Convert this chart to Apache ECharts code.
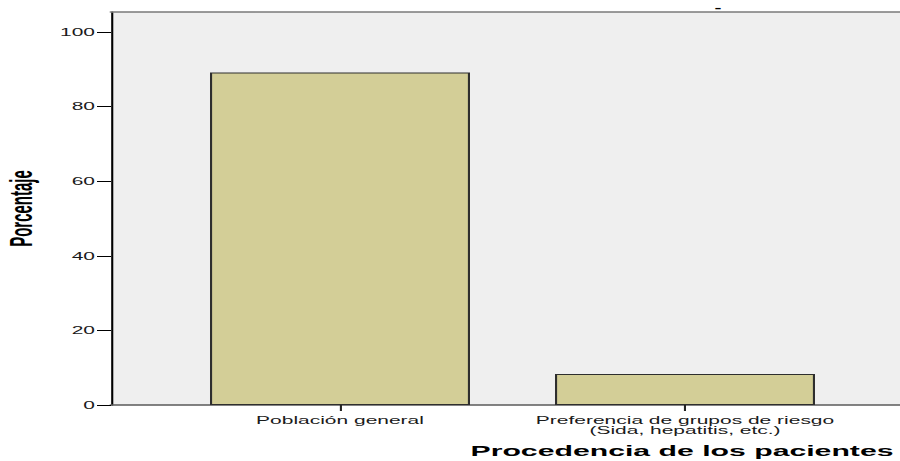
<!DOCTYPE html>
<html>
<head>
<meta charset="utf-8">
<script src="https://cdn.jsdelivr.net/npm/echarts@6/dist/echarts.min.js"></script>
<style>
  html, body { margin: 0; padding: 0; background: #ffffff; overflow: hidden; }
  #wrap { width: 900px; height: 461px; overflow: hidden; }
  #chart { height: 461px; transform-origin: 0 0; }
</style>
</head>
<body>
<div id="wrap"><div id="chart"></div></div>
<script>
// ---- data ----
const categories = ['Población general', 'Preferencia de grupos de riesgo\n(Sida, hepatitis, etc.)'];
const percentages = [89.2, 8.3];
const yTicks = [0, 20, 40, 60, 80, 100];
const yAxisTitle = 'Porcentaje';
const xAxisTitle = 'Procedencia de los pacientes';

// The reference image is horizontally stretched; lay out in a narrow box and stretch it.
const W = 429;
const S = 900 / W;
const el = document.getElementById('chart');
el.style.width = W + 'px';
el.style.transform = 'scaleX(' + S + ')';

const chart = echarts.init(el, null, { renderer: 'svg', width: W, height: 461 });
const FONT = 'Liberation Sans, Arial, sans-serif';
const yMax = 105.4;

chart.setOption({
  animation: false,
  backgroundColor: '#ffffff',
  title: {
    text: '-',
    left: 704 / S,
    top: -3,
    textStyle: { fontSize: 10, fontWeight: 'bold', color: '#000', fontFamily: FONT }
  },
  grid: [
    { left: 111 / S, right: 0, top: 12, bottom: 56, show: true, backgroundColor: '#efefef', borderWidth: 0, outerBoundsMode: 'none', containLabel: false },
    { left: 167.5 / S, right: 42.5 / S, top: 12, bottom: 56, outerBoundsMode: 'none', containLabel: false }
  ],
  xAxis: [
    { gridIndex: 0, type: 'value', min: 0, max: 1, position: 'bottom',
      axisLine: { show: true, onZero: false, lineStyle: { color: '#5a5a5a', width: 1.5 } },
      axisTick: { show: false }, axisLabel: { show: false }, splitLine: { show: false } },
    { gridIndex: 0, type: 'value', min: 0, max: 1, position: 'top',
      axisLine: { show: true, onZero: false, lineStyle: { color: '#7a7a7a', width: 1.5 } },
      axisTick: { show: false }, axisLabel: { show: false }, splitLine: { show: false } },
    { gridIndex: 1, type: 'category', data: categories, position: 'bottom',
      axisLine: { show: false },
      axisTick: { show: true, alignWithLabel: true, length: 6, lineStyle: { color: '#222', width: 1 } },
      axisLabel: { color: '#1a1a1a', fontSize: 10, fontFamily: FONT, margin: 10, lineHeight: 10, interval: 0 },
      name: xAxisTitle,
      nameLocation: 'middle',
      nameGap: 39,
      nameTextStyle: { fontSize: 14.4, fontWeight: 'bold', color: '#000', fontFamily: FONT,
        padding: [0, 0, 0, 2 * (682 - 512.5) / S] }
    }
  ],
  yAxis: [
    { gridIndex: 0, type: 'value', min: 0, max: yMax, interval: 20,
      axisLine: { show: true, onZero: false, lineStyle: { color: '#000', width: 1 } },
      axisTick: { show: true, length: 14 / S, customValues: yTicks, lineStyle: { color: '#000', width: 1 } },
      axisLabel: { color: '#1a1a1a', fontSize: 10, fontFamily: FONT, margin: 16 / S, customValues: yTicks },
      splitLine: { show: false },
      name: yAxisTitle,
      nameLocation: 'middle',
      nameGap: 34,
      nameTextStyle: { fontSize: 15, fontWeight: 'bold', color: '#000', fontFamily: FONT }
    },
    { gridIndex: 1, type: 'value', min: 0, max: yMax, show: false }
  ],
  series: [{
    type: 'bar',
    xAxisIndex: 2,
    yAxisIndex: 1,
    data: percentages,
    barWidth: 260 / S,
    itemStyle: { color: '#d3ce97', borderColor: '#2e2e2e', borderWidth: 1 }
  }]
});
</script>
</body>
</html>
